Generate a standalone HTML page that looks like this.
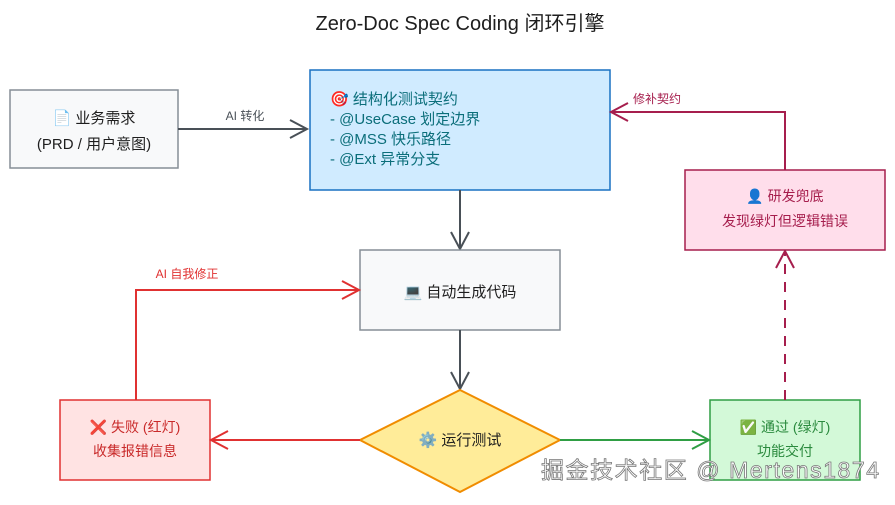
<!DOCTYPE html>
<html><head><meta charset="utf-8"><style>
body{margin:0;background:#fff;}
svg text{font-family:"Liberation Sans","Noto Sans CJK SC",sans-serif;}
</style></head><body>
<svg width="895" height="500" viewBox="0 0 895 500" xmlns="http://www.w3.org/2000/svg">
<text x="460" y="30" text-anchor="middle" font-size="20" fill="#1e1e1e">Zero-Doc Spec Coding 闭环引擎</text>

<rect x="10" y="90" width="168" height="78" fill="#f8f9fa" stroke="#868e96" stroke-width="1.5"/>
<text x="94" y="123" text-anchor="middle" font-size="15" fill="#1e1e1e">📄 业务需求</text>
<text x="94" y="149" text-anchor="middle" font-size="15" fill="#1e1e1e">(PRD / 用户意图)</text>

<line x1="178" y1="129" x2="306" y2="129" stroke="#495057" stroke-width="2"/>
<path d="M290 120 L307 129 L290 138" fill="none" stroke="#495057" stroke-width="2"/>
<text x="245" y="120" text-anchor="middle" font-size="12" fill="#495057">AI 转化</text>

<rect x="310" y="70" width="300" height="120" fill="#d0ebff" stroke="#1971c2" stroke-width="1.5"/>
<g font-size="15" fill="#0b6e7a">
<text x="330" y="104">🎯 结构化测试契约</text>
<text x="330" y="124">- @UseCase 划定边界</text>
<text x="330" y="144">- @MSS 快乐路径</text>
<text x="330" y="164">- @Ext 异常分支</text>
</g>

<line x1="460" y1="190" x2="460" y2="248" stroke="#495057" stroke-width="2"/>
<path d="M451 232 L460 249 L469 232" fill="none" stroke="#495057" stroke-width="2"/>

<rect x="360" y="250" width="200" height="80" fill="#f8f9fa" stroke="#868e96" stroke-width="1.5"/>
<text x="460" y="297" text-anchor="middle" font-size="15" fill="#1e1e1e">💻 自动生成代码</text>

<line x1="460" y1="330" x2="460" y2="388" stroke="#495057" stroke-width="2"/>
<path d="M451 372 L460 389 L469 372" fill="none" stroke="#495057" stroke-width="2"/>

<polygon points="460,390 560,440 460,492 360,440" fill="#ffec99" stroke="#f08c00" stroke-width="2"/>
<text x="460" y="445" text-anchor="middle" font-size="15" fill="#1e1e1e">⚙️ 运行测试</text>

<rect x="60" y="400" width="150" height="80" fill="#ffe3e3" stroke="#e03131" stroke-width="1.5"/>
<text x="135" y="432" text-anchor="middle" font-size="14" fill="#c92a2a">❌ 失败 (红灯)</text>
<text x="135" y="456" text-anchor="middle" font-size="14" fill="#c92a2a">收集报错信息</text>

<rect x="710" y="400" width="150" height="80" fill="#d3f9d8" stroke="#2f9e44" stroke-width="1.5"/>
<text x="785" y="432" text-anchor="middle" font-size="14" fill="#2b8a3e">✅ 通过 (绿灯)</text>
<text x="785" y="456" text-anchor="middle" font-size="14" fill="#2b8a3e">功能交付</text>

<line x1="360" y1="440" x2="212" y2="440" stroke="#e03131" stroke-width="2"/>
<path d="M228 431 L211 440 L228 449" fill="none" stroke="#e03131" stroke-width="2"/>
<line x1="560" y1="440" x2="708" y2="440" stroke="#2f9e44" stroke-width="2"/>
<path d="M692 431 L709 440 L692 449" fill="none" stroke="#2f9e44" stroke-width="2"/>

<path d="M136 400 L136 290 L358 290" fill="none" stroke="#e03131" stroke-width="2"/>
<path d="M342 281 L359 290 L342 299" fill="none" stroke="#e03131" stroke-width="2"/>
<text x="187" y="278" text-anchor="middle" font-size="12" fill="#e03131">AI 自我修正</text>

<line x1="785" y1="400" x2="785" y2="252" stroke="#a61e4d" stroke-width="2" stroke-dasharray="10,8"/>
<path d="M776 268 L785 251 L794 268" fill="none" stroke="#a61e4d" stroke-width="2"/>

<rect x="685" y="170" width="200" height="80" fill="#ffdeeb" stroke="#a61e4d" stroke-width="1.5"/>
<text x="785" y="201" text-anchor="middle" font-size="14" fill="#a61e4d">👤 研发兜底</text>
<text x="785" y="226" text-anchor="middle" font-size="14" fill="#a61e4d">发现绿灯但逻辑错误</text>

<path d="M785 170 L785 112 L612 112" fill="none" stroke="#a61e4d" stroke-width="2"/>
<path d="M628 103 L611 112 L628 121" fill="none" stroke="#a61e4d" stroke-width="2"/>
<text x="657" y="103" text-anchor="middle" font-size="12" fill="#a61e4d">修补契约</text>

<text x="710" y="478" text-anchor="middle" font-size="23" textLength="338" fill="#fff" stroke="#777" stroke-width="0.8">掘金技术社区 @ Mertens1874</text>
</svg>
</body></html>
